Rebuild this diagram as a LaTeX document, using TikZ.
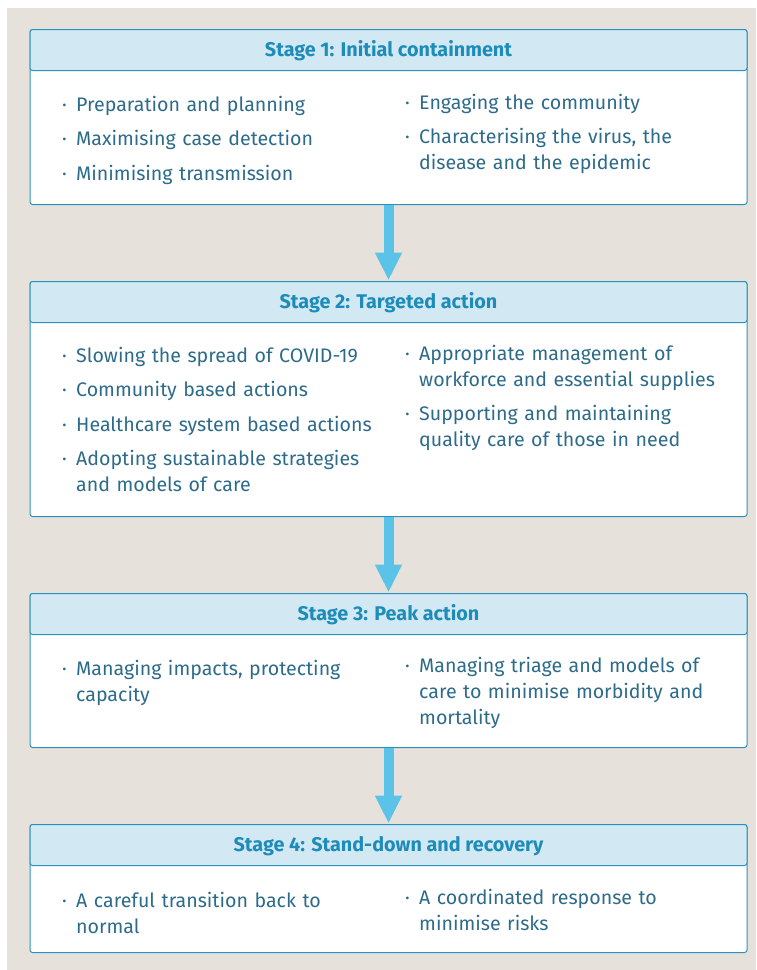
\documentclass[tikz,border=0pt]{standalone}
\usepackage{fontspec}
\setmainfont{Fira Sans}
\usetikzlibrary{arrows.meta,positioning}

\definecolor{paper}{HTML}{E6E2DB}
\definecolor{headfill}{HTML}{D2E9F3}
\definecolor{frame}{HTML}{2B92BF}
\definecolor{headtext}{HTML}{1E8CB9}
\definecolor{bodytext}{HTML}{2D6B8A}
\definecolor{arrowblue}{HTML}{5BC3E8}

% one bullet point of a stage
\newcommand{\stagepoint}[1]{\par\hangindent=14pt\hangafter=1\noindent
  \makebox[14pt][l]{\textperiodcentered}#1\par\vspace{8.5pt}}

\tikzset{
    stagebox/.style={draw=frame, line width=1pt, fill=white, rounded corners=2.5pt,
        minimum width=717pt, inner sep=0pt},
    stagehead/.style={draw=frame, line width=1pt, fill=headfill, rounded corners=2.5pt,
        minimum width=717pt, minimum height=41pt, inner sep=0pt,
        text height=14pt, text depth=2pt,
        font=\fontsize{19.8}{24}\selectfont\bfseries, text=headtext},
    column/.style={anchor=north west, inner sep=0pt,
        font=\fontsize{19.6}{26}\selectfont, text=bodytext},
    flow/.style={draw=arrowblue, line width=10pt,
        -{Triangle[width=25pt,length=28pt]}, shorten >=0.5pt},
}

\begin{document}
\begin{tikzpicture}[x=1pt,y=-1pt]
    \useasboundingbox (0,0) rectangle (756,970);
    \fill[white] (0,0) rectangle (756,970);
    \fill[paper] (7,8) rectangle (756,970);

    % stage 1
    \node[stagebox, minimum height=175pt, anchor=north] (s1) at (388.5,29) {};
    \node[stagehead, anchor=north] (h1) at (s1.north) {Stage 1: Initial containment};
    \node[column, text width=325pt] (l1) at (62,85) {
        \stagepoint{Preparation and planning}
        \stagepoint{Maximising case detection}
        \stagepoint{Minimising transmission}};
    \node[column, text width=335pt] (r1) at (405,83) {
        \stagepoint{Engaging the community}
        \stagepoint{Characterising the virus, the\newline disease and the epidemic}};

    % stage 2
    \node[stagebox, minimum height=235pt, anchor=north] (s2) at (388.5,281) {};
    \node[stagehead, anchor=north] (h2) at (s2.north) {Stage 2: Targeted action};
    \node[column, text width=325pt] (l2) at (62,336) {
        \stagepoint{Slowing the spread of COVID-19}
        \stagepoint{Community based actions}
        \stagepoint{Healthcare system based actions}
        \stagepoint{Adopting sustainable strategies\newline and models of care}};
    \node[column, text width=335pt] (r2) at (405,334) {
        \stagepoint{Appropriate management of\newline workforce and essential supplies}
        \stagepoint{Supporting and maintaining\newline quality care of those in need}};

    % stage 3
    \node[stagebox, minimum height=154pt, anchor=north] (s3) at (388.5,593) {};
    \node[stagehead, anchor=north] (h3) at (s3.north) {Stage 3: Peak action};
    \node[column, text width=325pt] (l3) at (62,649) {
        \stagepoint{Managing impacts, protecting\newline capacity}};
    \node[column, text width=335pt] (r3) at (405,646) {
        \stagepoint{Managing triage and models of\newline care to minimise morbidity and\newline mortality}};

    % stage 4
    \node[stagebox, minimum height=128pt, anchor=north] (s4) at (388.5,824) {};
    \node[stagehead, anchor=north] (h4) at (s4.north) {Stage 4: Stand-down and recovery};
    \node[column, text width=325pt] (l4) at (62,881) {
        \stagepoint{A careful transition back to\newline normal}};
    \node[column, text width=335pt] (r4) at (405,878) {
        \stagepoint{A coordinated response to\newline minimise risks}};

    % arrows between stages
    \draw[flow] (s1.south) -- (h2.north);
    \draw[flow] (s2.south) -- (h3.north);
    \draw[flow] (s3.south) -- (h4.north);
\end{tikzpicture}
\end{document}
